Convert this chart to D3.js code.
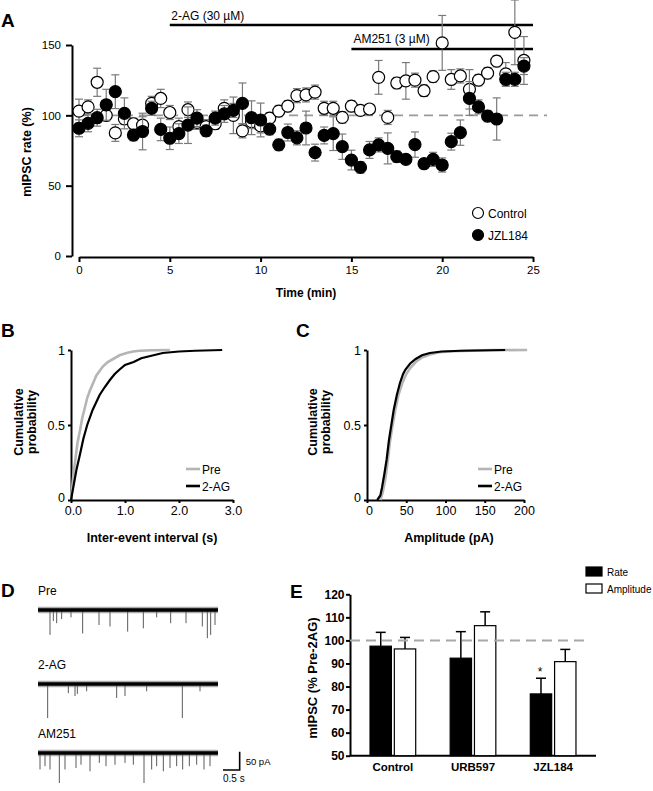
<!DOCTYPE html>
<html><head><meta charset="utf-8">
<script src="https://cdn.jsdelivr.net/npm/d3@7"></script>
<style>
body{margin:0;background:#fff;}
svg text{font-family:"Liberation Sans",Arial,Helvetica,sans-serif;fill:#000;}
</style></head><body>
<svg id="fig" width="653" height="791" xmlns="http://www.w3.org/2000/svg"></svg>
<script>
// ---------- Panel A data ----------
const timeMin = [0,0.5,1,1.5,2,2.5,3,3.5,4,4.5,5,5.5,6,6.5,7,7.5,8,8.5,9,9.5,10,10.5,11,11.5,12,12.5,13,13.5,14,14.5,15,15.5,16,16.5,17,17.5,18,18.5,19,19.5,20,20.5,21,21.5,22,22.5,23,23.5,24,24.5];
const controlRate = [103,106,123.5,100,87.5,97.5,94,93,108.5,112,102,92,104,95,92,94,105,100,89,95.5,92.5,98,103,106.5,114,114.5,116.5,105,105,98.5,106.5,103.5,104.5,127,98.5,123,124.5,125,117.5,127.5,151.5,125.5,128,118.5,125,130,138.5,129.5,159,139];
const controlErr = [8.5,5,10,4,6,4,4,6,5,6.5,5,6,5.5,5,5,4,6,13,5,5,5,4,4,4,5,5,5,5,5,4,4,3,3,12,5,4,13,5,4,4,19.5,7,5,14,4,4,4,8,23,17];
const jzlRate = [90.8,94.3,98.3,107.5,116.8,101.4,86,88.5,105,90,83.7,87,93,98,89,98,101,103.5,108.5,98.3,96.7,90.2,79,87.8,84,91,73.5,85.7,87,77.7,68.2,63,75.4,79,76.5,70.6,68.7,79.2,65.6,68.7,64.7,81.3,87.7,112,106,99.5,97.4,125.6,125.6,135];
const jzlErr = [6,6,6,11,12,11,4,13,5,8,8,7,13,6,4,5,6,5,14.5,12,12,4,4,6,5,12,6,6,12,9,7,4,6,5,11,4,3,9,3,5,5,6,9,12,5,4,15,5,5,6];
const timeTicks = [0,5,10,15,20,25];
const rateTicks = [0,50,100,150];
const drugBars = [{label:"2-AG (30 \u00B5M)", start:5, end:25},{label:"AM251 (3 \u00B5M)", start:15, end:25}];
const seriesNamesA = ["Control","JZL184"];

// ---------- Panel B / C data ----------
const iviPre = [[0,0],[0.04,0.15],[0.08,0.27],[0.12,0.38],[0.17,0.47],[0.21,0.55],[0.26,0.62],[0.3,0.68],[0.35,0.73],[0.41,0.78],[0.47,0.83],[0.53,0.86],[0.59,0.89],[0.68,0.92],[0.78,0.94],[0.9,0.965],[1.03,0.98],[1.15,0.99],[1.27,0.995],[1.5,0.998],[1.83,1.0]];
const ivi2AG = [[0,0],[0.05,0.1],[0.1,0.2],[0.17,0.31],[0.23,0.41],[0.3,0.5],[0.4,0.6],[0.53,0.7],[0.62,0.75],[0.72,0.8],[0.81,0.84],[0.9,0.87],[1.0,0.9],[1.16,0.92],[1.3,0.945],[1.47,0.96],[1.7,0.98],[2.0,0.99],[2.3,0.995],[2.8,1.0]];
const ampPre = [[17,0],[20,0.05],[23,0.13],[26,0.24],[29,0.38],[32,0.48],[36,0.6],[40,0.7],[45,0.78],[50,0.84],[55,0.88],[62,0.92],[70,0.95],[80,0.97],[92,0.985],[110,0.992],[134,0.996],[160,0.999],[204,1.0]];
const amp2AG = [[13,0],[17,0.03],[19,0.08],[22,0.17],[25,0.27],[28,0.4],[31,0.5],[34,0.6],[38,0.7],[42,0.78],[46,0.84],[49,0.87],[55,0.91],[62,0.94],[70,0.965],[80,0.98],[95,0.99],[120,0.995],[176,1.0]];
const iviTicks = [0,1,2,3];
const ampTicks = [0,50,100,150,200];
const probTicks = [0,0.5,1];

// ---------- Panel D data (event time s, amplitude pA) ----------
const tracePreT = [0.36,0.46,0.56,0.71,0.99,1.34,1.83,2.16,2.69,3.16,3.56,3.98,4.44,4.93,5.08,5.18,5.31];
const tracePreA = [68,30,36,25,20,64,41,45,59,50,20,36,36,45,77,68,41];
const trace2AGT = [0.29,0.91,1.11,1.18,1.46,2.36,2.61,3.26,4.33,4.86];
const trace2AGA = [93,25,33,27,20,38,33,20,93,20];
const traceAMT = [0.06,0.21,0.36,0.64,0.81,1.14,1.29,1.56,1.84,2.04,2.31,2.61,2.86,3.18,3.41,3.56,3.76,3.96,4.16,4.34,4.54,4.76,4.98,5.16];
const traceAMA = [45,36,45,82,45,41,32,50,27,36,32,27,32,82,45,36,50,41,36,45,36,32,45,36];
const traceNames = ["Pre","2-AG","AM251"];

// ---------- Panel E data ----------
const groupsE = ["Control","URB597","JZL184"];
const measuresE = ["Rate","Amplitude"];
const rateE = [97.5,92.3,76.8];
const rateErrE = [6,11.5,6.8];
const ampE = [96.3,106.4,90.8];
const ampErrE = [5,6,5.3];
const ticksE = [50,60,70,80,90,100,110,120];

// =====================================================
const svg = d3.select("#fig");
const FONT = "'Liberation Sans',Arial,Helvetica,sans-serif";
function styleAxis(g, fs, bold, sw){
  g.attr("font-family", FONT).attr("font-size", fs).attr("font-weight", bold ? "bold" : "normal");
  g.selectAll("path.domain").attr("stroke","#000").attr("stroke-width", sw);
  g.selectAll(".tick line").attr("stroke","#000").attr("stroke-width", sw);
  g.selectAll(".tick text").attr("fill","#000");
}
function letter(t,x,y){ svg.append("text").attr("x",x).attr("y",y).attr("font-size",19).attr("font-weight","bold").text(t); }

// ---------- Panel A ----------
const xA = d3.scaleLinear().domain([0,25]).range([79,533]);
const yA = d3.scaleLinear().domain([0,150]).range([256,45]);
letter("A",1,27);
const gA = svg.append("g");
const axYA = gA.append("g").attr("transform","translate(72,0)")
  .call(d3.axisLeft(yA).tickValues(rateTicks).tickSize(6).tickSizeOuter(0).tickPadding(5));
styleAxis(axYA, 11.5, false, 2);
const axXA = gA.append("g").attr("transform","translate(0,257)")
  .call(d3.axisBottom(xA).tickValues(timeTicks).tickSize(5).tickSizeOuter(0).tickPadding(4));
styleAxis(axXA, 11.5, false, 2);
gA.append("text").attr("transform",`translate(31,152) rotate(-90)`).attr("text-anchor","middle")
  .attr("font-size",12.5).attr("font-weight","bold").text("mIPSC rate (%)");
gA.append("text").attr("x",306).attr("y",297).attr("text-anchor","middle")
  .attr("font-size",12).attr("font-weight","bold").text("Time (min)");
// dashed 100% line
gA.append("line").attr("x1",xA(0)).attr("x2",547).attr("y1",yA(100)).attr("y2",yA(100))
  .attr("stroke","#9a9a9a").attr("stroke-width",1.8).attr("stroke-dasharray","9,6");
// drug bars
const barY = [25, 49], labY = [20, 43];
drugBars.forEach((d,i)=>{
  gA.append("line").attr("x1",xA(d.start)).attr("x2",xA(d.end)).attr("y1",barY[i]).attr("y2",barY[i])
    .attr("stroke","#000").attr("stroke-width",2.5);
  gA.append("text").attr("x",xA(d.start)+ (i?2:1.5)).attr("y",labY[i]).attr("font-size",12).text(d.label);
});
function drawSeries(vals, errs, filled){
  const data = timeMin.map((t,i)=>({t, v:vals[i], e:errs[i]}));
  const eb = gA.append("g").attr("stroke","#7a7a7a").attr("stroke-width",1.2);
  data.forEach(d=>{
    eb.append("line").attr("x1",xA(d.t)).attr("x2",xA(d.t)).attr("y1",yA(d.v+d.e)).attr("y2",yA(d.v-d.e));
    eb.append("line").attr("x1",xA(d.t)-4).attr("x2",xA(d.t)+4).attr("y1",yA(d.v+d.e)).attr("y2",yA(d.v+d.e));
    eb.append("line").attr("x1",xA(d.t)-4).attr("x2",xA(d.t)+4).attr("y1",yA(d.v-d.e)).attr("y2",yA(d.v-d.e));
  });
  gA.append("g").selectAll("circle").data(data).join("circle")
    .attr("cx",d=>xA(d.t)).attr("cy",d=>yA(d.v)).attr("r",6)
    .attr("fill", filled?"#000":"#fff").attr("stroke","#000").attr("stroke-width",1.2);
}
drawSeries(controlRate, controlErr, false);
drawSeries(jzlRate, jzlErr, true);
// legend
seriesNamesA.forEach((n,i)=>{
  gA.append("circle").attr("cx",478).attr("cy",213+22*i).attr("r",5.5)
    .attr("fill", i? "#000":"#fff").attr("stroke","#000").attr("stroke-width",1.2);
  gA.append("text").attr("x",488).attr("y",217.5+22*i).attr("font-size",12).text(n);
});

// ---------- Panels B & C ----------
function cdfPanel(opts){
  const g = svg.append("g");
  const x = d3.scaleLinear().domain(opts.domain).range(opts.range);
  const y = d3.scaleLinear().domain([0,1]).range([500,350]);
  const ay = g.append("g").attr("transform",`translate(${opts.range[0]},0)`)
    .call(d3.axisLeft(y).tickValues(probTicks).tickFormat(d3.format("")).tickSize(3).tickSizeOuter(0).tickPadding(3));
  styleAxis(ay, 12.5, false, 2);
  ay.selectAll(".tick text").filter(d=>d===0).attr("dy","0.1em");
  const ax = g.append("g").attr("transform","translate(0,500)")
    .call(d3.axisBottom(x).tickValues(opts.ticks).tickSize(3).tickSizeOuter(0).tickPadding(3));
  styleAxis(ax, 12.5, false, 2);
  ax.selectAll(".tick text").filter(d=>d===0).attr("dx","0.15em");
  const line = d3.line().x(d=>x(d[0])).y(d=>y(d[1]));
  g.append("path").attr("d",line(opts.pre)).attr("fill","none").attr("stroke","#b5b5b5").attr("stroke-width",2.6);
  g.append("path").attr("d",line(opts.ag)).attr("fill","none").attr("stroke","#000").attr("stroke-width",2.2);
  const yl = opts.ylx;
  g.append("text").attr("transform",`translate(${yl[0]},422) rotate(-90)`).attr("text-anchor","middle")
    .attr("font-size",12.5).attr("font-weight","bold").text("Cumulative");
  g.append("text").attr("transform",`translate(${yl[1]},422) rotate(-90)`).attr("text-anchor","middle")
    .attr("font-size",12.5).attr("font-weight","bold").text("probability");
  g.append("text").attr("x",opts.xlx).attr("y",542).attr("text-anchor","middle")
    .attr("font-size",12.5).attr("font-weight","bold").text(opts.xlabel);
  const lx = opts.legX;
  [["Pre","#b5b5b5"],["2-AG","#000"]].forEach((d,i)=>{
    g.append("line").attr("x1",lx).attr("x2",lx+14).attr("y1",469+17*i).attr("y2",469+17*i)
      .attr("stroke",d[1]).attr("stroke-width",2.6);
    g.append("text").attr("x",lx+16).attr("y",473.5+17*i).attr("font-size",12).text(d[0]);
  });
}
letter("B",1,337);
cdfPanel({domain:[0,3], range:[71,233], ticks:iviTicks, pre:iviPre, ag:ivi2AG, ylx:[22.5,36], xlx:152, xlabel:"Inter-event interval (s)", legX:186});
letter("C",296,337);
cdfPanel({domain:[0,200], range:[367,524], ticks:ampTicks, pre:ampPre, ag:amp2AG, ylx:[316.5,330], xlx:449, xlabel:"Amplitude (pA)", legX:478});

// ---------- Panel D ----------
letter("D",1,597);
const xD = d3.scaleLinear().domain([0,5.4]).range([38,218]);
const pA = d3.scaleLinear().domain([0,50]).range([0,18.3]);
const traceBase = [610,684,753];
const traces = [[tracePreT,tracePreA],[trace2AGT,trace2AGA],[traceAMT,traceAMA]];
traces.forEach((tr,k)=>{
  const yb = traceBase[k];
  const g = svg.append("g");
  g.append("text").attr("x",38).attr("y",yb-15).attr("font-size",12).text(traceNames[k]);
  tr[0].forEach((t,i)=>{
    g.append("line").attr("x1",xD(t)).attr("x2",xD(t)).attr("y1",yb).attr("y2",yb+pA(tr[1][i]))
      .attr("stroke","#5a5a5a").attr("stroke-width",1);
  });
  g.append("line").attr("x1",xD(0)).attr("x2",xD(5.4)).attr("y1",yb).attr("y2",yb)
    .attr("stroke","#666").attr("stroke-width",6.5).attr("stroke-opacity",0.55);
  g.append("line").attr("x1",xD(0)).attr("x2",xD(5.4)).attr("y1",yb).attr("y2",yb)
    .attr("stroke","#000").attr("stroke-width",3.5);
});
// scale bar
const sbx = xD(6.05), sby = 770;
svg.append("path").attr("d",`M${xD(5.55)},${sby}H${sbx}V${sby-pA(50)}`).attr("fill","none")
  .attr("stroke","#000").attr("stroke-width",1.6);
svg.append("text").attr("x",sbx+6).attr("y",sby-5).attr("font-size",9.5).text("50 pA");
svg.append("text").attr("x",xD(5.55)).attr("y",sby+12).attr("font-size",10).text("0.5 s");

// ---------- Panel E ----------
letter("E",290,598);
const yE = d3.scaleLinear().domain([50,120]).range([755.7,594.3]);
const xE = d3.scaleBand().domain(groupsE).range([350,596]).paddingInner(0.43).paddingOuter(0.25);
const xE1 = d3.scaleBand().domain(measuresE).range([0,xE.bandwidth()]).paddingInner(0.12);
const gE = svg.append("g");
const ayE = gE.append("g").attr("transform","translate(350,0)")
  .call(d3.axisLeft(yE).tickValues(ticksE).tickSize(4).tickSizeOuter(0).tickPadding(1.5));
styleAxis(ayE, 12, true, 2);
const axE = gE.append("g").attr("transform",`translate(0,${yE(50)})`)
  .call(d3.axisBottom(xE).tickSize(0).tickSizeOuter(0).tickPadding(7));
styleAxis(axE, 11.5, true, 2);
axE.select("path.domain").attr("d",`M350,0H596`);
gE.append("text").attr("transform",`translate(317,678) rotate(-90)`).attr("text-anchor","middle")
  .attr("font-size",13).attr("font-weight","bold").text("mIPSC (% Pre-2AG)");
const barsE = [];
groupsE.forEach((g,i)=>{
  barsE.push({g, m:"Rate", v:rateE[i], e:rateErrE[i]});
  barsE.push({g, m:"Amplitude", v:ampE[i], e:ampErrE[i]});
});
barsE.forEach(d=>{
  const x0 = xE(d.g)+xE1(d.m), w = xE1.bandwidth(), cx = x0+w/2;
  gE.append("line").attr("x1",cx).attr("x2",cx).attr("y1",yE(d.v)).attr("y2",yE(d.v+d.e)).attr("stroke","#000").attr("stroke-width",1.5);
  gE.append("line").attr("x1",cx-5).attr("x2",cx+5).attr("y1",yE(d.v+d.e)).attr("y2",yE(d.v+d.e)).attr("stroke","#000").attr("stroke-width",1.5);
  gE.append("rect").attr("x",x0).attr("y",yE(d.v)).attr("width",w).attr("height",yE(50)-yE(d.v))
    .attr("fill", d.m==="Rate"?"#000":"#fff").attr("stroke","#000").attr("stroke-width",1.2);
});
gE.append("line").attr("x1",350).attr("x2",590).attr("y1",yE(100)).attr("y2",yE(100))
  .attr("stroke","#a8a8a8").attr("stroke-width",2).attr("stroke-dasharray","10,6");
// significance star
const jz = barsE.find(d=>d.g==="JZL184" && d.m==="Rate");
gE.append("text").attr("x",xE("JZL184")+xE1("Rate")+xE1.bandwidth()/2-1).attr("y",yE(jz.v+jz.e)-2)
  .attr("text-anchor","middle").attr("font-size",12).attr("fill","#444").text("*");
// legend
measuresE.forEach((m,i)=>{
  gE.append("rect").attr("x",586).attr("y",567+17*i).attr("width",16).attr("height",9)
    .attr("fill", i? "#fff":"#000").attr("stroke","#000").attr("stroke-width",1.2);
  gE.append("text").attr("x",607).attr("y",576+17*i).attr("font-size",10).text(m);
});
</script>
</body></html>
